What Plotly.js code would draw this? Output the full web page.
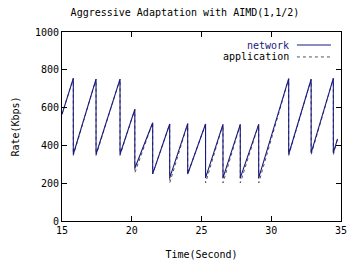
<!DOCTYPE html>
<html>
<head>
<meta charset="utf-8">
<script src="https://cdn.plot.ly/plotly-3.0.1.min.js"></script>
<style>html,body{margin:0;padding:0;background:#fff;}#chart{width:347px;height:265px;}</style>
</head>
<body>
<div id="chart"></div>
<script>
// Sawtooth cycles
var startTime = 15.0;
var startRate = 565;
var peakTimes = [15.81, 17.44, 19.16, 20.22, 21.50, 22.72, 24.01, 25.29, 26.54, 27.78, 29.10, 31.25, 32.86, 34.45];
var peakRates = [755, 751, 751, 591, 520, 513, 515, 513, 511, 511, 511, 753, 750, 755];
var netTroughs = [353, 353, 353, 279, 249, 228, 249, 228, 228, 228, 228, 353, 360, 360];
var appTroughs = [347, 347, 347, 254, 249, 201, 249, 201, 201, 201, 201, 347, 350, 350];
var endTime = 34.75;
var endRate = 435;
var xTicks = [15, 20, 25, 30, 35];
var yTicks = [0, 200, 400, 600, 800, 1000];

function buildSeries(troughs) {
  var xs = [startTime], ys = [startRate];
  for (var i = 0; i < peakTimes.length; i++) {
    xs.push(peakTimes[i]); ys.push(peakRates[i]);
    xs.push(peakTimes[i]); ys.push(troughs[i]);
  }
  xs.push(endTime); ys.push(endRate);
  return {x: xs, y: ys};
}
var net = buildSeries(netTroughs);
var app = buildSeries(appTroughs);

var mono = "DejaVu Sans Mono";
var data = [
  {x: app.x, y: app.y, mode: 'lines', name: 'application',
   line: {color: '#555555', width: 1, dash: 'dot'}, showlegend: false},
  {x: net.x, y: net.y, mode: 'lines', name: 'network',
   line: {color: '#1a1a80', width: 1.1}, showlegend: false}
];

var axisCommon = {
  showline: true, linecolor: '#000', linewidth: 1, mirror: 'ticks',
  ticks: 'inside', ticklen: 5, tickcolor: '#000', showgrid: false, zeroline: false,
  ticklabeloverflow: 'allow',
  tickfont: {family: mono, size: 10, color: '#000'}
};

var layout = {
  width: 347, height: 265,
  margin: {l: 62, r: 6, t: 32, b: 44},
  paper_bgcolor: '#fff', plot_bgcolor: '#fff',
  font: {family: mono, size: 10, color: '#000'},
  title: {text: 'Aggressive Adaptation with AIMD(1,1/2)', font: {family: mono, size: 10, color: '#000'},
          x: 185/347, xref: 'container', xanchor: 'center', y: 1 - 12/265, yref: 'container', yanchor: 'middle'},
  xaxis: Object.assign({}, axisCommon, {range: [15, 35], tickvals: xTicks, ticktext: xTicks.map(String),
          title: {text: 'Time(Second)', font: {family: mono, size: 10}, standoff: 15}}),
  yaxis: Object.assign({}, axisCommon, {range: [0, 1000], tickvals: yTicks, ticktext: yTicks.map(String),
          title: {text: 'Rate(Kbps)', font: {family: mono, size: 10}, standoff: 13}}),
  annotations: [
    {text: 'network', xref: 'paper', yref: 'paper', x: 0.822, y: 0.931, xanchor: 'right', yanchor: 'middle', showarrow: false,
     font: {family: mono, size: 10, color: '#1a1a80'}},
    {text: 'application', xref: 'paper', yref: 'paper', x: 0.822, y: 0.868, xanchor: 'right', yanchor: 'middle', showarrow: false,
     font: {family: mono, size: 10, color: '#000'}}
  ],
  shapes: [
    {type: 'line', xref: 'paper', yref: 'paper', x0: 0.842, x1: 0.964, y0: 0.931, y1: 0.931, line: {color: '#1a1a80', width: 1.1}},
    {type: 'line', xref: 'paper', yref: 'paper', x0: 0.842, x1: 0.964, y0: 0.868, y1: 0.868, line: {color: '#555555', width: 1, dash: 'dot'}}
  ]
};

Plotly.newPlot('chart', data, layout, {staticPlot: true, displayModeBar: false});
</script>
</body>
</html>
